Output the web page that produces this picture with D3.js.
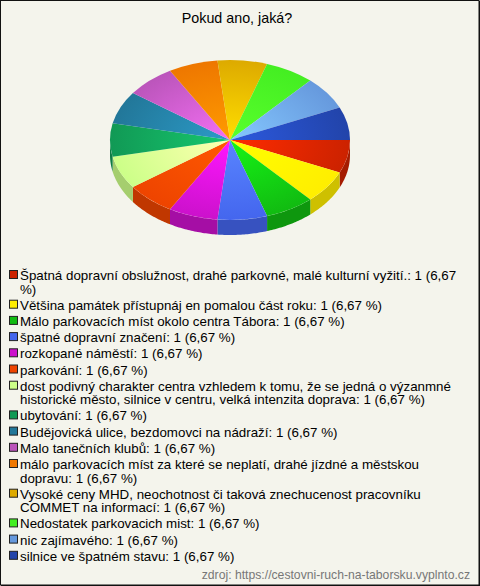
<!DOCTYPE html>
<html><head><meta charset="utf-8">
<script src="https://cdn.jsdelivr.net/npm/d3@7"></script>
<style>
html,body{margin:0;padding:0;background:#f4f4ec;}
svg{display:block;}
</style>
</head><body>
<svg id="chart" width="480" height="586"></svg>
<script>
const title = "Pokud ano, jaká?";
const source = "zdroj: https://cestovni-ruch-na-taborsku.vyplnto.cz";
const categories = [
  "Špatná dopravní obslužnost, drahé parkovné, malé kulturní vyžití.",
  "Většina památek přístupnáj en pomalou část roku",
  "Málo parkovacích míst okolo centra Tábora",
  "špatné dopravní značení",
  "rozkopané náměstí",
  "parkování",
  "dost podivný charakter centra vzhledem k tomu, že se jedná o výzanmné historické město, silnice v centru, velká intenzita doprava",
  "ubytování",
  "Budějovická ulice, bezdomovci na nádraží",
  "Malo tanečních klubů",
  "málo parkovacích míst za které se neplatí, drahé jízdné a městskou dopravu",
  "Vysoké ceny MHD, neochotnost či taková znechucenost pracovníku COMMET na informací",
  "Nedostatek parkovacich mist",
  "nic zajímavého",
  "silnice ve špatném stavu"
];
const values = [1,1,1,1,1,1,1,1,1,1,1,1,1,1,1];
const percents = ["6,67","6,67","6,67","6,67","6,67","6,67","6,67","6,67","6,67","6,67","6,67","6,67","6,67","6,67","6,67"];
const colors = ["#cc2200","#ffee00","#11bb11","#4466ee","#cc11cc","#ee4400","#ccff88","#119955","#227799","#bb55bb","#ee7700","#ddaa00","#44ee22","#6699dd","#2244aa"];

const svg = d3.select("#chart");
const W = 480, H = 586;
const font = "'Liberation Sans', Arial, sans-serif";
const fs = 13.35;

svg.append("rect").attr("x",0.5).attr("y",0.5).attr("width",W-1.5).attr("height",H-1.5)
  .attr("fill","#f4f4ec").attr("stroke","#111").attr("stroke-width",1);
svg.append("line").attr("x1",W-0.5).attr("x2",W-0.5).attr("y1",1).attr("y2",H).attr("stroke","#111");
svg.append("line").attr("x1",1).attr("x2",W).attr("y1",H-0.5).attr("y2",H-0.5).attr("stroke","#111");

svg.append("text").attr("x",237).attr("y",23).attr("text-anchor","middle")
  .attr("font-family",font).attr("font-size",14.3).attr("fill","#000").text(title);

// 3D pie
const cx = 230, cy = 140, rx = 120, ry = 80, depth = 15;
const sy = ry/rx;
const pie = d3.pie().sort(null).startAngle(Math.PI/2).endAngle(Math.PI/2 + 2*Math.PI);
const arcs = pie(values);
const defs = svg.append("defs");
colors.forEach((c,i)=>{
  const g = defs.append("radialGradient").attr("id","g"+i)
    .attr("gradientUnits","userSpaceOnUse").attr("cx",0).attr("cy",0).attr("r",rx);
  g.append("stop").attr("offset","0%").attr("stop-color", d3.rgb(c).brighter(0.75).formatHex());
  g.append("stop").attr("offset","100%").attr("stop-color", c);
});

// sides
const sideG = svg.append("g").attr("transform",`translate(${cx},${cy})`);
const pt = (a, off) => [rx*Math.sin(a), -ry*Math.cos(a) + off];
arcs.forEach((d,i)=>{
  const a0 = Math.max(d.startAngle, Math.PI/2), a1 = Math.min(d.endAngle, 3*Math.PI/2);
  if (a1 <= a0) return;
  const n = 30, pts = [];
  for (let k=0;k<=n;k++) pts.push(pt(a0+(a1-a0)*k/n, 0));
  for (let k=n;k>=0;k--) pts.push(pt(a0+(a1-a0)*k/n, depth));
  sideG.append("path").attr("d", d3.line()(pts)+"Z")
    .attr("fill", d3.rgb(colors[i]).darker(0.6).formatHex());
});

// tops
const arcGen = d3.arc().innerRadius(0).outerRadius(rx);
const topG = svg.append("g").attr("transform",`translate(${cx},${cy}) scale(1,${sy})`);
arcs.forEach((d,i)=>{
  topG.append("path").attr("d", arcGen(d)).attr("fill", `url(#g${i})`);
});

// legend
const legG = svg.append("g");
const maxW = 444;
let y = 280;
const measure = legG.append("text").attr("font-family",font).attr("font-size",fs).attr("visibility","hidden");
function wrap(str){
  const words = str.split(" ");
  const lines = []; let cur = "";
  words.forEach(w=>{
    const test = cur ? cur + " " + w : w;
    measure.text(test);
    if (measure.node().getComputedTextLength() > maxW && cur){ lines.push(cur); cur = w; }
    else cur = test;
  });
  if (cur) lines.push(cur);
  return lines;
}
categories.forEach((c,i)=>{
  const label = `${c}: ${values[i]} (${percents[i]} %)`;
  const lines = wrap(label);
  legG.append("rect").attr("x",9.5).attr("y",y-9.5).attr("width",8).attr("height",8)
    .attr("fill",colors[i]).attr("stroke","#222").attr("stroke-width",1);
  lines.forEach((l,j)=>{
    legG.append("text").attr("x",20).attr("y",y + j*13.5)
      .attr("font-family",font).attr("font-size",fs).attr("fill","#000").text(l);
  });
  y += (lines.length-1)*13.5 + 16.2;
});
measure.remove();

svg.append("text").attr("x",470).attr("y",579).attr("text-anchor","end")
  .attr("font-family",font).attr("font-size",12.2).attr("fill","#777").text(source);
</script>
</body></html>
